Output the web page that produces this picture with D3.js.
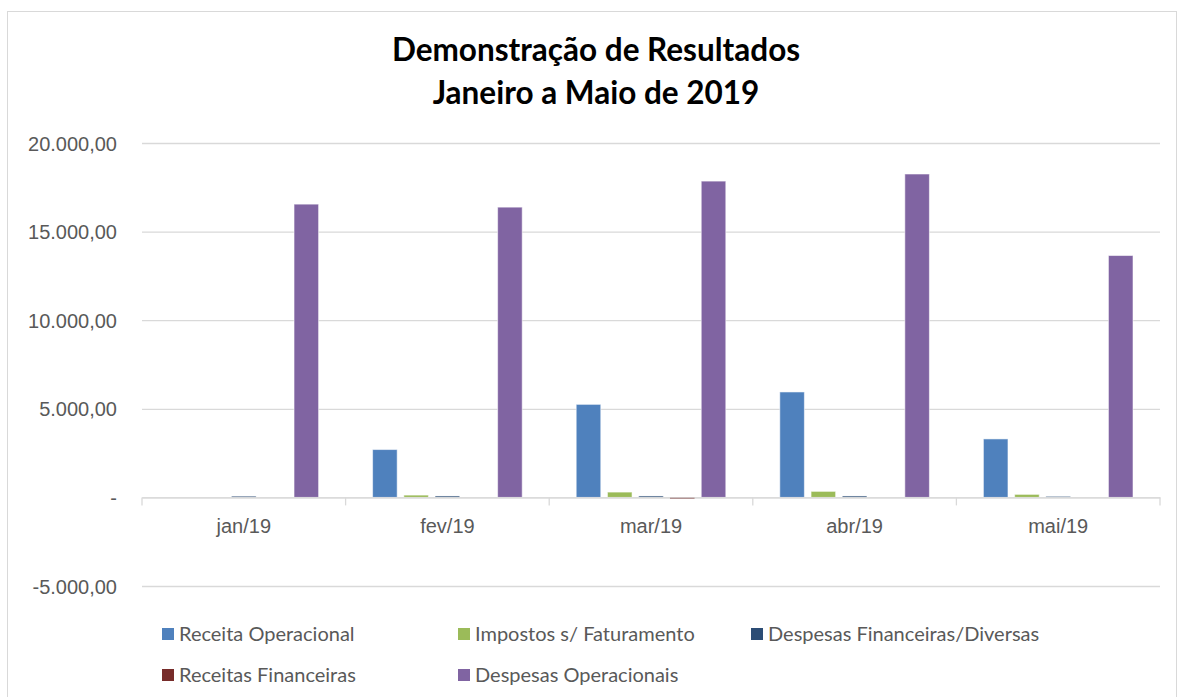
<!DOCTYPE html>
<html lang="pt">
<head>
<meta charset="UTF-8">
<title>Demonstração de Resultados</title>
<script src="https://d3js.org/d3.v7.min.js"></script>
<style>
  body { margin: 0; background: #fff; }
  svg { display: block; font-family: Lato, "Open Sans", sans-serif; }
  .tick text { fill: #595959; font-size: 20px; }
</style>
</head>
<body>
<svg id="chart" width="1177" height="697"></svg>
<script>
const months = ["jan/19", "fev/19", "mar/19", "abr/19", "mai/19"];
const seriesNames = ["Receita Operacional", "Impostos s/ Faturamento", "Despesas Financeiras/Diversas", "Receitas Financeiras", "Despesas Operacionais"];
const seriesColors = ["#4F81BD", "#9BBB59", "#2C4D75", "#772C2A", "#8064A2"];
const receitaOperacional = [0, 2700, 5250, 5950, 3300];
const impostos = [0, 130, 300, 340, 170];
const despesasFinanceiras = [70, 80, 80, 80, 60];
const receitasFinanceiras = [0, 0, -80, 0, 0];
const despesasOperacionais = [16550, 16380, 17850, 18250, 13650];
const yTicks = [-5000, 0, 5000, 10000, 15000, 20000];

const seriesValues = [receitaOperacional, impostos, despesasFinanceiras, receitasFinanceiras, despesasOperacionais];

const svg = d3.select("#chart");
const plot = { left: 142, right: 1160, top: 143, bottom: 586 };

// chart frame
svg.append("rect")
  .attr("x", 7.5).attr("y", 11.5).attr("width", 1169).attr("height", 700)
  .attr("fill", "none").attr("stroke", "#D9D9D9");

svg.append("text")
  .attr("x", 596).attr("y", 61)
  .attr("text-anchor", "middle")
  .attr("font-size", 31.5).attr("font-weight", "bold").attr("fill", "#000")
  .text("Demonstração de Resultados");
svg.append("text")
  .attr("x", 596).attr("y", 104)
  .attr("text-anchor", "middle")
  .attr("font-size", 31.5).attr("font-weight", "bold").attr("fill", "#000")
  .text("Janeiro a Maio de 2019");

const y = d3.scaleLinear().domain([-5000, 20000]).range([plot.bottom, plot.top]);
const x0 = d3.scaleBand().domain(months).range([plot.left, plot.right]).padding(0);
const x1 = d3.scaleBand().domain(seriesNames)
  .range([27, x0.bandwidth() - 27]).paddingInner(0.214).paddingOuter(0);

const ptBR = d3.formatLocale({ decimal: ",", thousands: ".", grouping: [3], currency: ["R$", ""], minus: "-" });
const fmt = v => v === 0 ? "-" : ptBR.format(",.2f")(v);

// gridlines + y labels
const yAxis = svg.append("g")
  .attr("transform", `translate(${plot.left},0)`)
  .call(d3.axisLeft(y).tickValues(yTicks).tickSize(-(plot.right - plot.left)).tickPadding(25).tickFormat(fmt));
yAxis.select(".domain").remove();
yAxis.selectAll(".tick line").attr("stroke", "#D9D9D9").attr("stroke-width", 1.3);
yAxis.selectAll(".tick text").attr("dy", "0.35em");

// bars
const rows = [];
months.forEach((m, i) => {
  seriesNames.forEach((s, j) => rows.push({ month: m, series: s, value: seriesValues[j][i], color: seriesColors[j] }));
});

svg.append("g").selectAll("rect")
  .data(rows)
  .join("rect")
  .attr("x", d => x0(d.month) + x1(d.series))
  .attr("width", x1.bandwidth())
  .attr("y", d => Math.min(y(d.value), y(0)))
  .attr("height", d => Math.abs(y(d.value) - y(0)))
  .attr("fill", d => d.color)
  .attr("stroke", d => (d.value === 0 || d.series === "Receitas Financeiras") ? "none" : "rgba(255,255,255,0.55)")
  .attr("stroke-width", 1);

// category axis at zero
const xAxis = svg.append("g")
  .attr("transform", `translate(0,${y(0)})`)
  .call(d3.axisBottom(x0).tickSize(0).tickPadding(21));
xAxis.select(".domain").attr("stroke", "#D9D9D9").attr("stroke-width", 1.3);
xAxis.selectAll(".tick text").attr("dy", "0.71em");
svg.append("g").selectAll("line")
  .data(months.concat(["end"]))
  .join("line")
  .attr("x1", (d, i) => i < months.length ? x0(d) : plot.right)
  .attr("x2", (d, i) => i < months.length ? x0(d) : plot.right)
  .attr("y1", y(0)).attr("y2", y(0) + 8)
  .attr("stroke", "#D9D9D9").attr("stroke-width", 1.3);

// legend
const legendPos = [[162, 634], [458, 634], [751, 634], [162, 675], [458, 675]];
const legend = svg.append("g").selectAll("g")
  .data(seriesNames)
  .join("g")
  .attr("transform", (d, i) => `translate(${legendPos[i][0]},${legendPos[i][1]})`);
legend.append("rect")
  .attr("x", 0).attr("y", -6).attr("width", 12).attr("height", 12)
  .attr("fill", (d, i) => seriesColors[i]);
legend.append("text")
  .attr("x", 17).attr("dy", "0.35em")
  .attr("font-size", 20).attr("fill", "#595959")
  .text(d => d);
</script>
</body>
</html>
